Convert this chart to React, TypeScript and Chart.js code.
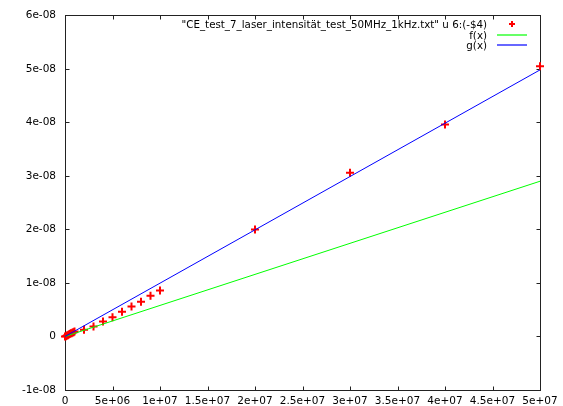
import React, { useEffect, useRef } from "react";
import { Chart, registerables } from "chart.js";

Chart.register(...registerables);

// Legend entries
const seriesLabel = '"CE_test_7_laser_intensität_test_50MHz_1kHz.txt" u 6:(-$4)';
const fLabel = "f(x)";
const gLabel = "g(x)";

// Measured data: frequency (Hz) vs. -$4
const freqHz = [
  0, 1e5, 2e5, 3e5, 4e5, 5e5, 6e5, 7e5, 8e5, 9e5, 1e6,
  2e6, 3e6, 4e6, 5e6, 6e6, 7e6, 8e6, 9e6, 1e7,
  2e7, 3e7, 4e7, 5e7,
];
const signal = [
  0, 0.6e-10, 2.0e-10, 2.5e-10, 3.9e-10, 4.4e-10, 5.8e-10, 6.1e-10, 7.5e-10, 8.0e-10, 9.2e-10,
  1.24e-9, 1.85e-9, 2.78e-9, 3.57e-9, 4.6e-9, 5.6e-9, 6.5e-9, 7.6e-9, 8.6e-9,
  2.0e-8, 3.06e-8, 3.96e-8, 5.05e-8,
];

// Fitted lines, end points over the plotted range
const lineX = [0, 5e7];
const fValues = [0, 2.9e-8];
const gValues = [0, 4.98e-8];

// Axis ticks
const xTickValues = [0, 5e6, 1e7, 1.5e7, 2e7, 2.5e7, 3e7, 3.5e7, 4e7, 4.5e7, 5e7];
const xTickLabels = ["0", "5e+06", "1e+07", "1.5e+07", "2e+07", "2.5e+07", "3e+07", "3.5e+07", "4e+07", "4.5e+07", "5e+07"];
const yTickValues = [-1e-8, 0, 1e-8, 2e-8, 3e-8, 4e-8, 5e-8, 6e-8];
const yTickLabels = ["-1e-08", "0", "1e-08", "2e-08", "3e-08", "4e-08", "5e-08", "6e-08"];

const RED = "#ff0000";
const GREEN = "#00ff00";
const BLUE = "#0000ff";

const FONT = "DejaVu Sans";
const FONT_SIZE = 10.5;
const KEY_FONT_SIZE = 10.3;
const TICK_LEN = 4;

const framePlugin = {
  id: "gnuFrame",
  beforeDatasetsDraw(chart: any) {
    const { ctx, chartArea: a, scales } = chart;
    const L = Math.round(a.left) + 0.5;
    const R = Math.round(a.right) + 0.5;
    const T = Math.round(a.top) + 0.5;
    const B = Math.round(a.bottom) + 0.5;
    ctx.save();
    ctx.strokeStyle = "#222";
    ctx.lineWidth = 1;
    ctx.beginPath();
    for (const v of xTickValues) {
      const px = Math.round(scales.x.getPixelForValue(v)) + 0.5;
      ctx.moveTo(px, B);
      ctx.lineTo(px, B - TICK_LEN);
      ctx.moveTo(px, T);
      ctx.lineTo(px, T + TICK_LEN);
    }
    for (const v of yTickValues) {
      const py = Math.round(scales.y.getPixelForValue(v)) + 0.5;
      ctx.moveTo(L, py);
      ctx.lineTo(L + TICK_LEN, py);
      ctx.moveTo(R, py);
      ctx.lineTo(R - TICK_LEN, py);
    }
    ctx.stroke();
    ctx.strokeRect(L, T, R - L, B - T);
    ctx.restore();
  },
  afterDraw(chart: any) {
    const { ctx } = chart;
    const textRight = 487;
    const sampleL = 497;
    const sampleR = 527;
    const rows = [25.5, 36, 46.5];
    const keyColors = [RED, GREEN, BLUE];
    ctx.save();
    ctx.font = `${KEY_FONT_SIZE}px "${FONT}"`;
    ctx.textAlign = "right";
    ctx.textBaseline = "middle";
    chart.data.datasets.forEach((ds: any, i: number) => {
      const yy = rows[i];
      ctx.fillStyle = "#000";
      ctx.fillText(ds.label, textRight, yy);
      ctx.strokeStyle = keyColors[i];
      if (i > 0) {
        // soft, anti-aliased key sample spanning two pixel rows
        const ly = Math.floor(yy - 1);
        ctx.lineWidth = 1.2;
        ctx.beginPath();
        ctx.moveTo(sampleL, ly);
        ctx.lineTo(sampleR, ly);
        ctx.stroke();
      } else {
        const cx = (sampleL + sampleR) / 2;
        const cy = Math.floor(yy - 1);
        ctx.lineWidth = 2;
        ctx.beginPath();
        ctx.moveTo(cx - 3, cy);
        ctx.lineTo(cx + 3, cy);
        ctx.moveTo(cx, cy - 3);
        ctx.lineTo(cx, cy + 3);
        ctx.stroke();
      }
    });
    ctx.restore();
  },
};

export default function App() {
  const canvasRef = useRef<HTMLCanvasElement | null>(null);

  useEffect(() => {
    const canvas = canvasRef.current;
    if (!canvas) return;
    const tickFont = { family: FONT, size: FONT_SIZE };
    const chart = new Chart(canvas, {
      type: "scatter",
      data: {
        datasets: [
          {
            label: seriesLabel,
            data: freqHz.map((x, i) => ({ x, y: signal[i] })),
            showLine: false,
            pointStyle: "cross",
            pointRadius: 4,
            pointBorderWidth: 2,
            borderColor: RED,
            backgroundColor: RED,
            clip: false,
            order: 3,
          },
          {
            label: fLabel,
            data: lineX.map((x, i) => ({ x, y: fValues[i] })),
            showLine: true,
            pointRadius: 0,
            borderWidth: 1,
            borderColor: GREEN,
            backgroundColor: GREEN,
            order: 2,
          },
          {
            label: gLabel,
            data: lineX.map((x, i) => ({ x, y: gValues[i] })),
            showLine: true,
            pointRadius: 0,
            borderWidth: 1,
            borderColor: BLUE,
            backgroundColor: BLUE,
            order: 1,
          },
        ] as any,
      },
      options: {
        animation: false,
        responsive: false,
        events: [],
        layout: { padding: { left: 0, top: 13, right: 23, bottom: 0 } },
        plugins: {
          legend: { display: false },
          tooltip: { enabled: false },
        },
        scales: {
          x: {
            type: "linear",
            min: 0,
            max: 5e7,
            grid: { display: false, drawTicks: false },
            border: { display: false },
            afterBuildTicks: (s: any) => {
              s.ticks = xTickValues.map((value) => ({ value }));
            },
            afterFit: (s: any) => {
              s.height = 16;
            },
            ticks: {
              autoSkip: false,
              maxRotation: 0,
              minRotation: 0,
              padding: 5,
              color: "#000",
              font: tickFont,
              callback: (_v: any, i: number) => xTickLabels[i],
            },
          },
          y: {
            type: "linear",
            min: -1e-8,
            max: 6e-8,
            grid: { display: false, drawTicks: false },
            border: { display: false },
            afterBuildTicks: (s: any) => {
              s.ticks = yTickValues.map((value) => ({ value }));
            },
            afterFit: (s: any) => {
              s.width = 65;
            },
            ticks: {
              autoSkip: false,
              padding: 9,
              color: "#000",
              font: tickFont,
              callback: (_v: any, i: number) => yTickLabels[i],
            },
          },
        },
      } as any,
      plugins: [framePlugin],
    });
    return () => chart.destroy();
  }, []);

  return (
    <canvas
      ref={canvasRef}
      width={563}
      height={406}
      style={{ position: "fixed", left: 0, top: 0, display: "block", background: "#fff" }}
    />
  );
}
